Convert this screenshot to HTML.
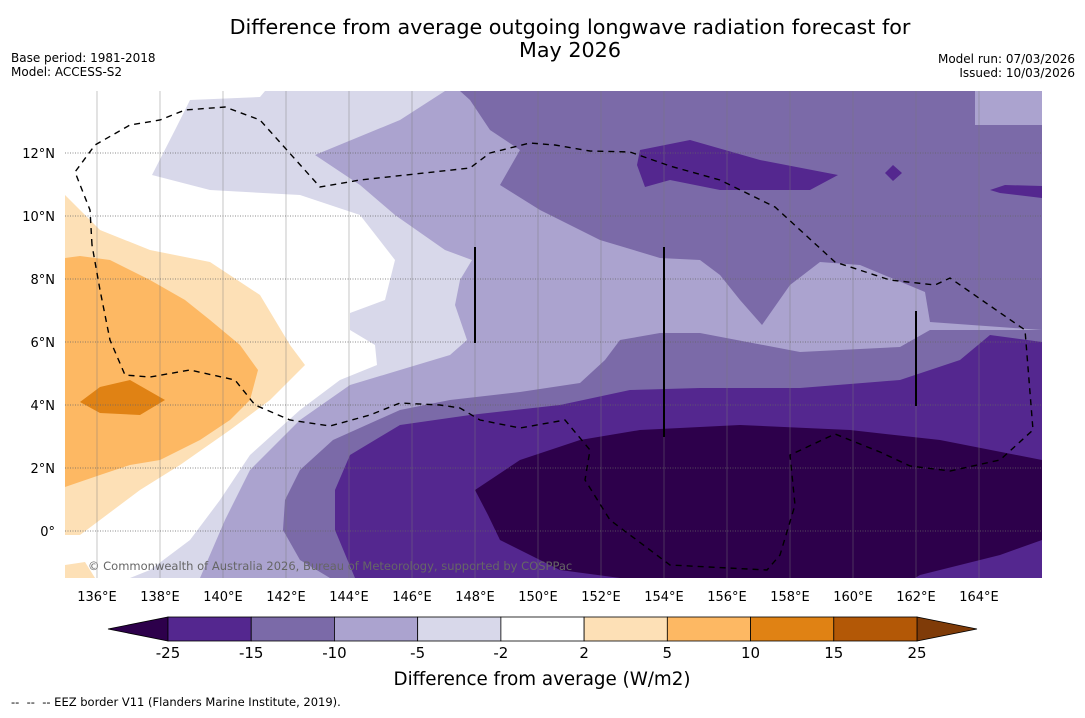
<!DOCTYPE html>
<html><head><meta charset="utf-8"><style>
body{margin:0;background:#fff;width:1085px;height:713px;overflow:hidden;font-family:"Liberation Sans","DejaVu Sans",sans-serif;}
</style></head><body>
<svg id="chart" width="1085" height="713" xmlns="http://www.w3.org/2000/svg" font-family="'DejaVu Sans','Liberation Sans',sans-serif">
<text x="570" y="34" font-size="20.7" text-anchor="middle">Difference from average outgoing longwave radiation forecast for</text>
<text x="570" y="57" font-size="20.7" text-anchor="middle">May 2026</text>
<text x="11" y="62" font-size="12">Base period: 1981-2018</text>
<text x="11" y="76" font-size="12">Model: ACCESS-S2</text>
<text x="1075" y="63" font-size="12" text-anchor="end">Model run: 07/03/2026</text>
<text x="1075" y="77" font-size="12" text-anchor="end">Issued: 10/03/2026</text>
<defs><clipPath id="mapclip"><rect x="65" y="91" width="977" height="487"/></clipPath></defs>
<g id="map" clip-path="url(#mapclip)">
<rect x="65" y="91" width="977" height="487" fill="#aba3cf"/>
<polygon fill="#d8d8ea" points="65,91 445,91 400,120 315,155 360,185 395,215 445,250 472,260 460,280 455,305 467,340 450,355 400,370 350,385 300,420 250,470 225,520 200,578 65,578"/>
<polygon fill="#ffffff" points="65,91 265,91 260,97 190,100 175,130 152,175 210,190 300,195 360,215 395,260 385,300 350,313 350,330 375,345 377,365 340,380 300,410 250,455 220,500 190,540 150,570 130,578 65,578"/>
<polygon fill="#fde0b6" points="65,195 100,230 150,250 210,262 260,295 290,345 305,365 270,400 230,430 180,465 140,490 100,520 80,535 65,535"/>
<polygon fill="#fde0b6" points="65,565 85,562 95,578 65,578"/>
<polygon fill="#fdb863" points="65,258 80,256 110,260 150,280 185,300 210,320 240,345 258,370 250,400 230,420 200,440 160,460 130,465 100,475 65,487"/>
<polygon fill="#e08214" points="80,402 100,387 130,380 165,400 140,415 100,413"/>
<polygon fill="#7b6aa8" points="460,91 975,91 975,125 1042,125 1042,330 930,322 925,292 860,265 820,262 790,285 762,325 740,300 720,275 700,260 660,258 600,240 540,210 500,185 520,150 490,130 470,100"/>
<polygon fill="#7b6aa8" points="1042,330 930,330 900,347 800,352 700,333 660,333 620,340 605,360 580,383 520,392 450,400 400,410 333,440 300,470 285,500 283,530 300,560 330,578 1042,578"/>
<polygon fill="#54278f" points="1042,342 990,335 960,360 900,380 800,388 700,388 630,390 560,405 470,415 400,425 350,455 335,490 335,530 355,578 1042,578"/>
<polygon fill="#54278f" points="640,150 690,140 760,160 838,175 810,190 720,190 670,180 645,187 637,165"/>
<polygon fill="#54278f" points="990,190 1005,185 1042,186 1042,198 1000,193"/>
<polygon fill="#54278f" points="885,173 893,165 902,173 893,181"/>
<polygon fill="#2d004b" points="475,490 520,460 580,440 640,430 740,425 850,430 940,440 1042,460 1042,540 1000,555 920,575 915,578 620,578 560,570 500,540 488,515"/>
<g id="grid"></g>
<path fill="none" stroke="#000" stroke-width="1.4" stroke-dasharray="6,5" d="M92,245 L90,210 L75,172 L95,145 L130,125 L160,120 L185,110 L225,107 L260,120 L320,187 L360,180 L470,168 L490,153 L530,143 L555,145 L590,151 L630,152 L670,166 L720,180 L775,207 L835,262 L890,280 L935,285 L950,278 L1025,330 L1033,430 L1000,460 L950,471 L910,466 L880,452 L835,434 L790,455 L795,505 L780,555 L767,570 L670,565 L610,520 L585,480 L590,450 L565,420 L520,428 L480,420 L460,408 L440,405 L400,403 L370,415 L330,426 L290,420 L255,405 L235,380 L190,370 L150,377 L125,375 L110,340 L100,290 Z"/>
<line x1="475" y1="247" x2="475" y2="343" stroke="#000" stroke-width="2"/>
<line x1="664" y1="247" x2="664" y2="437" stroke="#000" stroke-width="2"/>
<line x1="916" y1="311" x2="916" y2="406" stroke="#000" stroke-width="2"/>
<text x="88" y="570" font-size="11.5" fill="#666">© Commonwealth of Australia 2026, Bureau of Meteorology, supported by COSPPac</text>
</g>
<g id="axes"></g>
<g id="cbar"></g>
<text x="542" y="685" font-size="18.3" text-anchor="middle">Difference from average (W/m2)</text>
<text x="11" y="706" font-size="11.5" xml:space="preserve">--  --  -- EEZ border V11 (Flanders Marine Institute, 2019).</text>
</svg>
<script>
const lonTicks=[136,138,140,142,144,146,148,150,152,154,156,158,160,162,164];
const latTicks=[12,10,8,6,4,2,0];
const levelLabels=["-25","-15","-10","-5","-2","2","5","10","15","25"];
const levelColors=["#54278f","#7b6aa8","#aba3cf","#d8d8ea","#ffffff","#fde0b6","#fdb863","#e08214","#b35806"];
const extendColors=["#2d004b","#7f3b08"];
const NS="http://www.w3.org/2000/svg";
const xLon=l=>97+(l-136)*31.5;
const yLat=l=>531-l*31.5;
function mk(t,a,p){const e=document.createElementNS(NS,t);for(const k in a)e.setAttribute(k,a[k]);p.appendChild(e);return e;}
const grid=document.getElementById('grid'),axes=document.getElementById('axes'),cb=document.getElementById('cbar');
lonTicks.forEach(l=>{
 const g=mk('line',{x1:xLon(l),x2:xLon(l),y1:91,y2:578,stroke:'#777','stroke-width':0.6,'stroke-opacity':0.7},grid);
 
 
 const t=mk('text',{x:xLon(l),y:601,'font-size':13,'text-anchor':'middle'},axes);t.textContent=l+'°E';
 
 
});
latTicks.forEach(l=>{
 const g=mk('line',{x1:65,x2:1042,y1:yLat(l),y2:yLat(l),stroke:'#666','stroke-width':0.8,'stroke-dasharray':'1,1.5'},grid);
 
 
 const t=mk('text',{x:55,y:yLat(l)+5,'font-size':13,'text-anchor':'end'},axes);t.textContent=l===0?'0°':l+'°N';
 
 
});
const cx0=168,cx1=917,cy=617,ch=24,n=levelColors.length,w=(cx1-cx0)/n;
const lo=mk('polygon',{points:`108,${cy+ch/2} ${cx0},${cy} ${cx0},${cy+ch}`,fill:extendColors[0],stroke:'#000','stroke-width':0.8},cb);


const hi=mk('polygon',{points:`977,${cy+ch/2} ${cx1},${cy} ${cx1},${cy+ch}`,fill:extendColors[1],stroke:'#000','stroke-width':0.8},cb);


levelColors.forEach((c,i)=>{
 const r=mk('rect',{x:cx0+i*w,y:cy,width:w,height:ch,fill:c,stroke:'#000','stroke-width':0.8},cb);
 
 
});
levelLabels.forEach((s,i)=>{
 const t=mk('text',{x:cx0+i*w,y:cy+ch+17,'font-size':15,'text-anchor':'middle'},cb);t.textContent=s;
 
 
});
</script>
</body></html>
